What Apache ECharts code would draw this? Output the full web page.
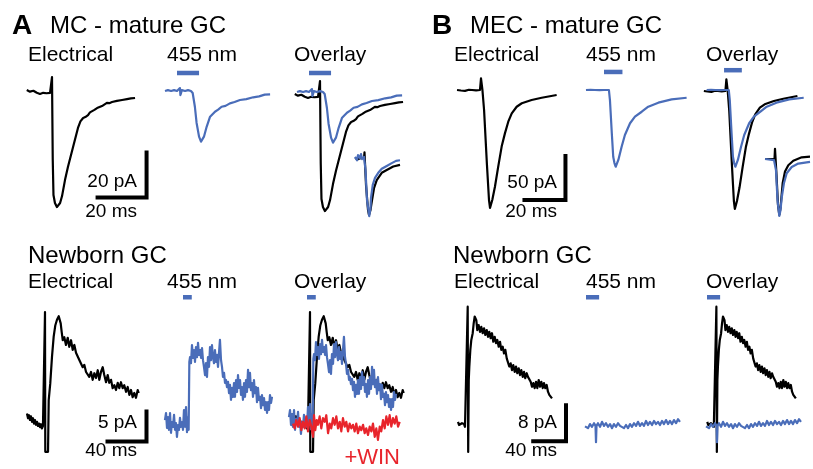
<!DOCTYPE html>
<html>
<head>
<meta charset="utf-8">
<script src="https://cdn.jsdelivr.net/npm/echarts@6/dist/echarts.min.js"></script>
<style>
  html, body { margin: 0; background: #fff; }
  #chart { width: 813px; height: 469px; }
</style>
</head>
<body>
<div id="chart"></div>
<script>
// all traces: [time (ms), current (pA)], t = 0 at stimulus / light onset
// insets are normalised to peak (-1)

// A, MC -> mature GC
const mcMatureElec = [[-10.3,0.4],[-9,-0.3],[-7.6,0.1],[-6.2,-0.8],[-4.9,-1.3],[-3.6,-0.8],[-2.2,-1.0],[-0.8,-0.8],[-0.2,-0.4],
  [0,6.2],[0.3,-30.2],[0.6,-46.2],[1.2,-49.8],[2,-51.6],[2.7,-51.1],[3.3,-49.8],[4.1,-46.7],[5.3,-39.6],[6.5,-33.8],
  [8.6,-24.9],[10.6,-16.4],[11.6,-13.5],[12.7,-12],[13.6,-11.6],[14.7,-10.7],[15.5,-9.5],[16.3,-8.9],[17.3,-8.4],
  [18.4,-7.6],[20.4,-6.7],[22.4,-5.3],[23.4,-5.4],[24.5,-4.9],[26.5,-4.4],[28.6,-4],[30.6,-3.6],[32.2,-3.3],[33.9,-3.1]];
const mcMature455 = [[-4.9,0],[-3.7,0.4],[-2.4,0],[-1.2,0.4],[0,0],[1.2,1.3],[1.4,-1.8],[2,0.4],[3.3,0],[4.5,0.4],[5.7,0],
  [6.4,-0.9],[7.3,-7],[8,-14.2],[9,-20.3],[9.8,-22.5],[11,-20.3],[12.1,-15.9],[13.5,-11.4],[15.5,-9.2],[16.8,-8.3],
  [18.2,-7],[19.8,-6.6],[21.6,-5.5],[23.5,-4.9],[25.7,-4],[28.3,-3.6],[31.1,-2.8],[33.5,-2.4],[35.8,-1.6],[38,-1.5]];
const mcInsetElec = [[-8,0],[-5.6,-0.02],[-3.2,0],[-0.8,0],[-0.4,0.1],[0.8,-0.47],[2.4,-0.91],[3.2,-1.0],[4.4,-0.91],
  [5.4,-0.77],[7.2,-0.53],[9.4,-0.39],[13.4,-0.26],[17.4,-0.21],[22.6,-0.15],[28,-0.12]];
const mcInset455 = [[-8,0.02],[-6.4,-0.04],[-5.6,0.05],[-4,0],[-3.2,0.07],[-2.4,-0.02],[-0.8,0.02],[0.4,-0.21],[1.6,-0.74],
  [3.4,-1.02],[4.4,-0.88],[4.8,-0.7],[6.2,-0.47],[8,-0.35],[10.6,-0.26],[13.4,-0.19],[17.4,-0.14],[21.4,-0.09],[24.8,-0.05],[28,-0.04]];

// A, MC -> newborn GC
const mcNewbornElec = [[-18.5,1.1],[-17.4,0.3],[-16.4,0.8],[-15.4,0],[-14.4,0.6],[-13.3,-0.3],[-12.3,0.3],[-11.3,-0.6],
  [-10.3,0],[-9.2,-0.8],[-8.2,-0.3],[-7.2,-1.0],[-6.2,-0.6],[-5.1,-1.2],[-4.1,-0.7],[-3.1,-1.4],[-2.1,-1.0],[-1,-1.1],
  [0,18],[0.3,-5.3],[3.1,-5.3],[3.8,3.3],
  [5.4,6.1],[7.2,10.6],[8.9,13.9],[10.6,15.8],[12.3,16.7],[14.1,17.3],[15.1,17],[16.1,16.1],[17.1,14.7],[18.2,13.3],
  [19.8,13.8],[21.5,12.5],[23.3,13.7],[24.9,12.2],[26.7,13.3],[28.4,11.7],[30.1,12.5],[31.8,11.2],[33.5,11.3],[35.2,10],
  [36.9,9.7],[38.7,8.8],[40.3,9.2],[42.1,8],[43.8,8.3],[45.4,7.2],[47.2,8],[48.9,6.7],[50.6,7.8],[52.3,7],[54.1,8.3],
  [55.7,6.7],[57.4,8],[59.2,8.8],[60.8,7.5],[62.6,6.3],[64.3,7.5],[65.9,6.2],[67.7,6.7],[69.4,5.3],[71.1,5.8],[72.8,5],
  [74.6,6.2],[76.2,5.3],[77.9,6.3],[79.7,5.3],[81.3,5.8],[83.1,4.7],[84.8,5.5],[86.5,4.2],[88.2,5],[89.9,3.8],[91.6,4.5],
  [93.3,3.7],[95.1,5],[96.1,4.5]];
const mcNewborn455 = [[-18.5,0.8],[-17.4,2],[-16.4,-0.5],[-15.4,1.3],[-14.4,-0.8],[-13.3,2],[-12.3,-1.3],[-11.3,0.5],
  [-10.3,-0.3],[-9.2,1.7],[-8.2,-0.8],[-7.2,0.3],[-6.2,-2],[-5.1,0],[-4.1,-0.8],[-3.1,1.2],[-2.1,-0.3],[-1,0.5],[0,-0.8],
  [1,2.5],[2.1,-0.3],[3.1,3],[4.1,-1.2],[5.1,1.3],[5.8,-0.8],[6.5,10.5],[7.2,11.3],[8.2,10.3],[9.2,13.3],[10.3,11.2],
  [11.3,12.5],[12.3,10.5],[13.3,13],[14.4,11.3],[15.4,13.7],[16.4,11.7],[17.4,12.5],[18.5,11.2],[19.5,12.8],[20.5,10.8],
  [21.5,9.7],[22.6,8.3],[23.6,10.3],[24.6,8],[25.6,11.3],[26.7,9.7],[27.7,13],[28.7,10.8],[29.7,13.3],[30.8,11.3],
  [31.8,10.3],[32.8,12.5],[33.8,10.5],[34.9,11.7],[35.9,9.7],[36.9,12],[37.9,14.2],[39,10.8],[40,9.7],[41,8],[42.1,8.7],
  [43.1,7],[44.1,7.5],[45.1,6.3],[46.2,7.2],[47.2,5.3],[48.2,6.7],[49.2,4.2],[50.3,6.2],[51.3,4.7],[52.3,7],[53.3,4.7],
  [54.4,7.5],[55.4,5.5],[56.4,8.3],[57.4,6.2],[58.5,7.5],[59.5,5],[60.5,6.3],[61.5,4.2],[62.6,7],[63.6,4.7],[64.6,7.5],
  [65.6,5.5],[66.7,9.2],[67.7,6.3],[68.7,8.7],[69.7,5.8],[70.8,7],[71.8,4.7],[72.8,7.5],[73.8,5.3],[74.9,6.3],[75.9,3.8],
  [76.9,6.2],[77.9,4.2],[79,4.7],[80,2.8],[81,5],[82.1,3.3],[83.1,4.5],[84.1,2.5],[85.1,3.8],[86.2,2],[87.2,3.8],
  [88.2,2.5],[89.2,5],[90.3,3.7],[91.3,4.7]];
const mcNewbornWin = [[-17.4,-0.6],[-15.7,-1.4],[-14.1,0],[-12.3,-1.1],[-10.6,0.3],[-8.9,-1.7],[-7.2,-0.3],[-5.4,-1.4],
  [-3.8,0.6],[-2.1,-1.9],[-0.3,0],[1.3,-1.1],[3.1,-2.8],[4.1,0.8],[5.4,-1.7],[6.9,0],[8.2,-0.8],[9.9,0.6],[11.6,-1.4],
  [13.3,0.3],[15.1,-0.3],[16.7,0.8],[18.5,-2.2],[20.2,-0.6],[21.8,-1.4],[23.6,0.3],[25.3,-0.8],[27,0.6],[28.7,-1.4],
  [30.5,-0.3],[32.1,-1.9],[33.8,0.3],[35.6,-1.1],[37.2,-0.3],[39,-1.9],[40.7,-0.6],[42.4,-1.4],[44.1,-0.8],[45.8,-1.9],
  [47.5,-0.6],[49.2,-2.2],[51,-1.1],[52.6,-1.7],[54.4,-0.8],[56.1,-2.2],[57.7,-1.4],[59.5,-2.5],[61.2,-1.1],[62.9,-1.9],
  [64.6,-0.6],[66.4,-2.8],[68,-1.4],[69.7,-3.3],[71.5,-1.1],[73.1,-1.9],[74.9,0],[76.6,-1.4],[78.3,0.6],[80,-0.8],
  [81.7,0.8],[83.4,-1.1],[85.1,0.3],[86.9,-0.6],[88.5,0.6],[90.3,-1.1],[92,-0.3]];

// B, MEC -> mature GC
const mecMatureElec = [[-11.7,0],[-9.8,-0.6],[-7.8,-1],[-5.9,0.3],[-4.4,0],[-2.4,-0.5],[-0.5,0],[0,13.3],[0.7,0],
  [1.5,-22.7],[2.9,-85],[3.9,-125],[4.4,-134],[4.9,-132],[5.5,-125],[6.8,-110],[8.4,-87],[10.1,-64],[11.7,-49],
  [13.3,-36],[15,-26.5],[17.4,-19],[19.9,-15.1],[24.7,-11.4],[29.6,-8.8],[36.9,-5.7]];
const mecMature455 = [[-8.8,0],[-6.6,0.2],[-4.4,0],[-2.2,-0.2],[0,0],[2.4,0],[2.9,-11.4],[3.8,-48.9],[4.5,-75.8],
  [5.1,-83],[5.7,-87.2],[6.3,-85],[7,-79.5],[8.6,-64.4],[10.2,-51.1],[12.7,-37.8],[15.1,-30.3],[18.4,-24.7],
  [21.6,-19],[26.5,-14.4],[33,-10.6],[40.3,-8.8]];
const mecInsetElec = [[-11,0],[-6,0],[-1.5,0],[-1,0.18],[0.5,-0.28],[2,-0.81],[3.3,-0.98],[4.5,-0.86],[6.7,-0.42],
  [9,-0.22],[12.3,-0.11],[17.3,-0.03],[25.7,0.03],[34,0.04]];
const mecInset455 = [[-11,0],[-2,-0.02],[0,-0.2],[1.5,-0.72],[3.3,-1.0],[4.5,-0.9],[5.7,-0.68],[8,-0.42],[10.7,-0.25],
  [15.7,-0.14],[22.3,-0.08],[34,-0.05]];

// B, MEC -> newborn GC
const mecNewbornElec = [[-11.8,0.7],[-10.6,0],[-9.4,0.4],[-8.2,-0.2],[-7,0.4],[-5.7,0],[-4.5,0.2],[-3.3,-0.4],[-2.1,0],
  [-0.9,-0.7],[0,26.3],[0.6,-6],[1.3,10],[2,13],[3.2,16.7],[4.4,18.9],[6.1,20.4],[7.3,22.6],[8.5,24.1],[9.3,24.4],
  [10.5,23.3],[11.7,21.1],[13.4,22.2],[15,20.7],[16.6,21.8],[18.3,20.4],[19.9,21.5],[21.5,20],[23.2,21.1],[24.8,19.6],
  [26.3,20.7],[28,19.3],[29.6,20.4],[31.2,18.5],[32.9,19.6],[34.5,18.2],[36.1,18.9],[37.8,17.4],[39.4,18.5],[41,16.7],
  [42.7,17.4],[44.3,15.9],[45.9,16.7],[47.6,14.8],[49.1,15.2],[50.7,13],[52.4,13.7],[54,12.2],[55.6,13.3],[57.3,11.8],
  [58.9,13],[60.5,11.5],[62.2,12.6],[63.8,11.1],[65.4,12.2],[67.1,10.7],[68.7,11.8],[70.2,10.4],[72,11.5],[73.5,10.7],
  [75.1,11.1],[76.8,9.6],[78.4,8.5],[80,9.3],[81.7,8.2],[83.3,9.6],[84.9,8.2],[86.6,10],[88.2,8.5],[89.8,9.6],[91.5,8.2],
  [93,9.3],[94.6,8.2],[96.3,8.9],[97.9,7.4],[99.5,6.7],[101.2,6.3],[102.8,5.9]];
const mecNewborn455 = [[-1.2,-0.3],[0,-0.1],[2.4,-0.7],[4.9,0.2],[7.3,-0.4],[9.8,0.4],[11.6,-0.2],[12.2,-3.8],[12.8,-0.2],
  [14.6,0.4],[17.1,-0.4],[19.5,0.7],[22,-0.2],[24.4,0.4],[26.8,-0.4],[29.3,0.2],[31.7,-0.7],[34.1,0.2],[36.6,-0.4],
  [39,0.4],[41.5,-0.2],[43.9,0.2],[46.3,-0.7],[48.8,0],[51.2,-0.7],[53.7,0.2],[56.1,-0.4],[58.5,0.4],[61,-0.2],[63.4,0.7],
  [65.9,-0.2],[68.3,0.4],[70.7,-0.2],[73.2,0.9],[75.6,0],[78,0.7],[80.5,0],[82.9,0.9],[85.4,0.2],[87.8,0.7],[90.2,0],
  [92.7,0.9],[95.1,0.2],[97.6,1.1],[100,0.2],[102.4,0.9],[104.9,0.2],[107.3,1.1],[109.8,0.4],[112.2,1.3],[114.6,0.7]];

// light pulses (ms) and scale bars
const lightPulseMature = [0, 9];
const lightPulseMcNewborn = [0, 9];
const lightPulseMecNewborn = [0, 16];
const scaleBarMs = [20, 20, 40, 40];   // A mature, B mature, A newborn, B newborn
const scaleBarPA = [20, 50, 5, 8];

const BLUE = '#4a6db9';
const RED = '#e8242b';
const FONT = '"Liberation Sans", Arial, sans-serif';
const W_SMOOTH = 2.2;   // mature traces
const W_NOISY = 2.2;    // newborn traces

const chart = echarts.init(document.getElementById('chart'));
const grids = [], xAxes = [], yAxes = [], series = [];

// x0,y0: pixel of t=0 / 0 pA; sx,sy: px per ms / per pA
function panel(x0, y0, sx, sy, t, i) {
  const k = grids.length;
  grids.push({ left: x0 + t[0] * sx, top: y0 - i[1] * sy, width: (t[1] - t[0]) * sx, height: (i[1] - i[0]) * sy });
  xAxes.push({ type: 'value', gridIndex: k, min: t[0], max: t[1], show: false });
  yAxes.push({ type: 'value', gridIndex: k, min: i[0], max: i[1], show: false });
  return k;
}
function trace(k, data, color, width) {
  series.push({
    type: 'line', xAxisIndex: k, yAxisIndex: k, data: data, symbol: 'none', clip: false,
    silent: true, animation: false, lineStyle: { color: color, width: width, join: 'round' }
  });
}
function pulse(k, p, level) {
  trace(k, [[p[0], level], [p[1], level]], BLUE, 4.5);
}
function scaleBar(k, corner, ms, pA) {
  series.push({
    type: 'line', xAxisIndex: k, yAxisIndex: k, symbol: 'none', clip: false, silent: true, animation: false,
    data: [[corner[0] - ms, corner[1]], corner, [corner[0], corner[1] + pA]],
    lineStyle: { color: '#000', width: 4, join: 'miter', cap: 'square' }
  });
}

// ---- A top: 2.45 px/ms, 2.25 px/pA
const tA = [-12, 45], iA = [-56, 10];
let g = panel(52, 91, 2.45, 2.25, tA, iA);
trace(g, mcMatureElec, '#000', W_SMOOTH);
scaleBar(g, [38.6, -47.3], scaleBarMs[0], scaleBarPA[0]);
g = panel(177, 91, 2.45, 2.25, tA, iA);
trace(g, mcMature455, BLUE, W_SMOOTH);
pulse(g, lightPulseMature, 8);
g = panel(320, 95, 2.45, 2.25, tA, iA);
trace(g, mcMatureElec, '#000', W_SMOOTH);
g = panel(309, 92, 2.45, 2.25, tA, iA);
trace(g, mcMature455, BLUE, W_SMOOTH);
pulse(g, lightPulseMature, 8.4);
g = panel(365, 158, 1.25, 57, [-10, 30], [-1.1, 0.3]);
trace(g, mcInsetElec, '#000', W_SMOOTH);
trace(g, mcInset455, BLUE, W_SMOOTH);

// ---- B top: 2.05 px/ms, 0.88 px/pA
const tB = [-13, 45], iB = [-145, 25];
g = panel(481, 90, 2.05, 0.88, tB, iB);
trace(g, mecMatureElec, '#000', W_SMOOTH);
scaleBar(g, [41.2, -125], scaleBarMs[1], scaleBarPA[1]);
g = panel(604, 90, 2.05, 0.88, tB, iB);
trace(g, mecMature455, BLUE, W_SMOOTH);
pulse(g, lightPulseMature, 20.5);
g = panel(728, 91, 2.05, 0.88, tB, iB);
trace(g, mecMatureElec, '#000', W_SMOOTH);
g = panel(725, 90, 2.05, 0.88, tB, iB);
trace(g, mecMature455, BLUE, W_SMOOTH);
pulse(g, lightPulseMature, 22.5);
g = panel(776, 159, 1.0, 57, [-12, 36], [-1.1, 0.3]);
trace(g, mecInsetElec, '#000', W_SMOOTH);
trace(g, mecInset455, BLUE, W_SMOOTH);

// ---- A bottom: 0.975 px/ms, 6 px/pA
const tAn = [-20, 110], iAn = [-7, 23];
g = panel(45, 420, 0.975, 6, tAn, iAn);
trace(g, mcNewbornElec, '#000', W_NOISY);
scaleBar(g, [104.1, -3.6], scaleBarMs[2], scaleBarPA[2]);
g = panel(183, 425, 0.975, 6, tAn, iAn);
trace(g, mcNewborn455, BLUE, W_NOISY);
pulse(g, lightPulseMcNewborn, 21.3);
const gAnBlack = panel(310, 420, 0.975, 6, tAn, iAn);
trace(gAnBlack, mcNewbornElec, '#000', W_NOISY);
g = panel(307, 422, 0.975, 6, tAn, iAn);
trace(g, mcNewborn455, BLUE, W_NOISY);
pulse(g, lightPulseMcNewborn, 20.8);
trace(gAnBlack, mcNewbornWin, RED, W_NOISY);

// ---- B bottom: 0.82 px/ms, 4.5 px/pA
const tBn = [-13, 125], iBn = [-7, 30];
g = panel(467.7, 425, 0.82, 4.5, tBn, iBn);
trace(g, mecNewbornElec, '#000', W_NOISY);
scaleBar(g, [119.9, -3.6], scaleBarMs[3], scaleBarPA[3]);
g = panel(586, 425, 0.82, 4.5, tBn, iBn);
trace(g, mecNewborn455, BLUE, W_NOISY);
pulse(g, lightPulseMecNewborn, 28.4);
g = panel(717, 425, 0.82, 4.5, tBn, iBn);
trace(g, mecNewbornElec, '#000', W_NOISY);
g = panel(707, 425, 0.82, 4.5, tBn, iBn);
trace(g, mecNewborn455, BLUE, W_NOISY);
pulse(g, lightPulseMecNewborn, 28.4);

// ---- labels
function label(text, x, y, size, opts) {
  opts = opts || {};
  return {
    type: 'text', silent: true,
    style: {
      text: text, x: x, y: y,
      font: (opts.bold ? 'bold ' : '') + size + 'px ' + FONT,
      fill: opts.color || '#000',
      align: opts.align || 'left', textAlign: opts.align || 'left',
      verticalAlign: 'middle', textVerticalAlign: 'middle'
    }
  };
}
const texts = [
  label('A', 12, 26, 28, { bold: true }),
  label('MC - mature GC', 50, 26, 24),
  label('B', 432, 26, 28, { bold: true }),
  label('MEC - mature GC', 470, 26, 24),
  label('Electrical', 28, 55, 21), label('455 nm', 167, 55, 21), label('Overlay', 294, 55, 21),
  label('Electrical', 454, 55, 21), label('455 nm', 586, 55, 21), label('Overlay', 706, 55, 21),
  label('Newborn GC', 28, 256, 24), label('Newborn GC', 453, 256, 24),
  label('Electrical', 28, 282, 21), label('455 nm', 167, 282, 21), label('Overlay', 294, 282, 21),
  label('Electrical', 454, 282, 21), label('455 nm', 586, 282, 21), label('Overlay', 706, 282, 21),
  label('20 pA', 137, 182, 19, { align: 'right' }), label('20 ms', 137, 212, 19, { align: 'right' }),
  label('50 pA', 557, 183, 19, { align: 'right' }), label('20 ms', 557, 212, 19, { align: 'right' }),
  label('5 pA', 137, 423, 19, { align: 'right' }), label('40 ms', 137, 451, 19, { align: 'right' }),
  label('8 pA', 557, 423, 19, { align: 'right' }), label('40 ms', 557, 451, 19, { align: 'right' }),
  label('+WIN', 400, 458, 22, { align: 'right', color: RED })
];

chart.setOption({
  backgroundColor: '#fff',
  animation: false,
  grid: grids,
  xAxis: xAxes,
  yAxis: yAxes,
  series: series,
  graphic: texts
});
</script>
</body>
</html>
